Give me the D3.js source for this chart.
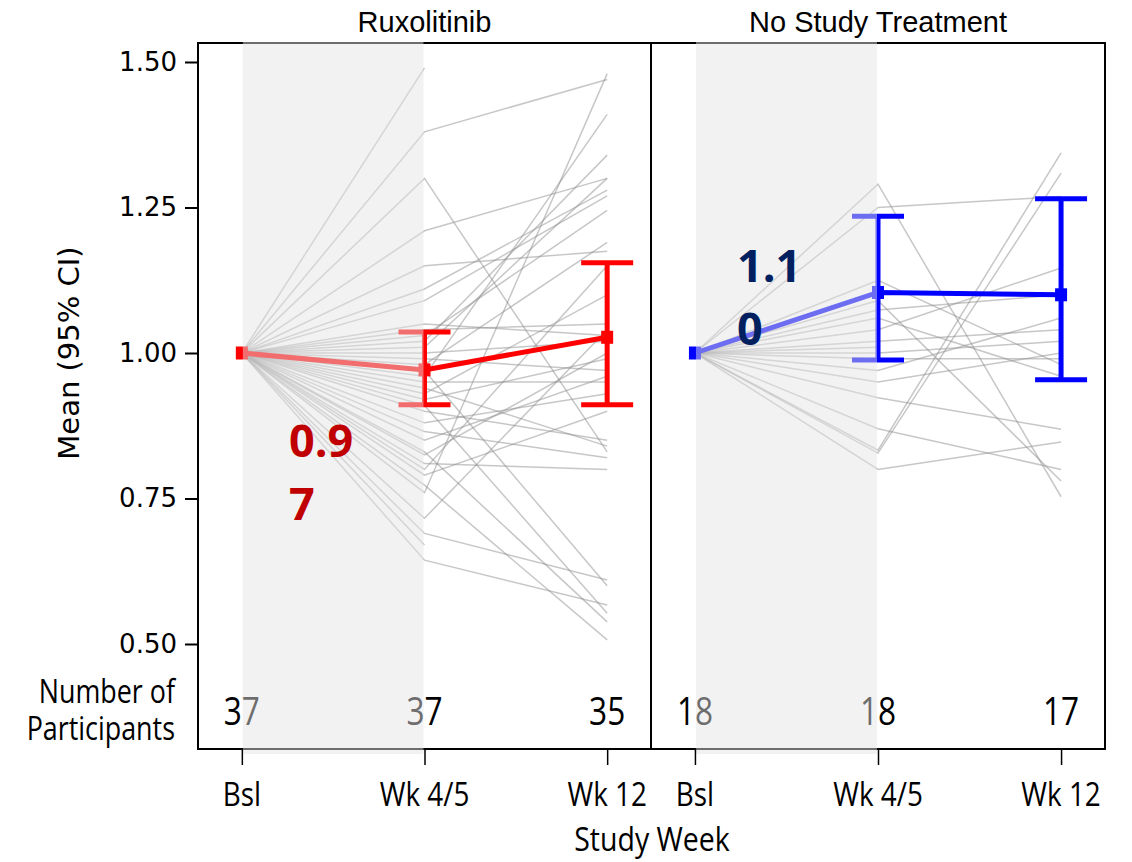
<!DOCTYPE html>
<html><head><meta charset="utf-8">
<script src="https://cdn.jsdelivr.net/npm/d3@7"></script>
<style>body{margin:0;background:#fff}svg{display:block}</style>
</head><body>
<svg id="c" width="1132" height="862"></svg>
<script>
// ---------- data ----------
const timepoints = ["Bsl", "Wk 4/5", "Wk 12"];
const panelTitles = ["Ruxolitinib", "No Study Treatment"];
const yTicks = [0.50, 0.75, 1.00, 1.25, 1.50];

// individual participants (normalised to baseline = 1.00)
const ruxBsl = 1.00;
const ruxWk45 = [1.49, 1.38, 1.30, 1.21, 1.15, 1.11, 1.09, 1.05, 1.04, 1.03, 1.02, 1.01, 1.00,
  0.99, 0.98, 0.97, 0.96, 0.95, 0.94, 0.93, 0.92, 0.91, 0.90, 0.88, 0.865, 0.85, 0.83, 0.825,
  0.81, 0.80, 0.79, 0.773, 0.76, 0.716, 0.69, 0.67, 0.644];
const ruxWk12 = [null, 1.47, 0.83, 1.30, 1.175, 1.28, 1.27, 1.03, 1.05, 1.245, 1.34, 1.30, 1.02,
  0.97, 1.19, 0.60, 1.41, 0.95, 0.84, 1.10, 0.99, 0.553, 0.85, 0.93, 0.82, 0.96, 0.538, 1.00,
  0.80, 1.15, 0.90, 0.507, 1.48, 1.04, 0.61, null, 0.567];

const nstBsl = 1.00;
const nstWk45 = [1.29, 1.25, 1.125, 1.09, 1.074, 1.06, 1.04, 1.02, 1.01, 1.00, 0.99, 0.97,
  0.95, 0.923, 0.87, 0.833, 0.828, 0.80];
const nstWk12 = [0.753, 1.269, 0.98, 0.78, 1.10, 0.96, 1.146, 1.04, null, 1.02, 0.99, 1.06,
  1.00, 0.869, 0.80, 1.344, 1.309, 0.847];

// group means and 95% CI
const ruxMean = [1.00, 0.971, 1.027];
const ruxLower = [null, 0.911, 0.911];
const ruxUpper = [null, 1.036, 1.155];
const nstMean = [1.00, 1.104, 1.100];
const nstLower = [null, 0.988, 0.954];
const nstUpper = [null, 1.235, 1.265];

const ruxN = [37, 37, 35];
const nstN = [18, 18, 17];

const ruxLabel = ["0.9", "7"];   // wrapped "0.97"
const nstLabel = ["1.1", "0"];   // wrapped "1.10"

// ---------- layout ----------
const svg = d3.select("#c");
const L = 198, R = 1105, T = 43, B = 749, MID = 651;
const y = d3.scaleLinear().domain([0.5, 1.5]).range([644, 62]);

const panels = [
  { title: panelTitles[0], x0: L, x1: MID, bsl: ruxBsl, w45: ruxWk45, w12: ruxWk12,
    mean: ruxMean, lo: ruxLower, hi: ruxUpper, n: ruxN, col: "#ff0000", lab: ruxLabel,
    labCol: "#c00000", labX: 289, labY: [457, 520] },
  { title: panelTitles[1], x0: MID, x1: R, bsl: nstBsl, w45: nstWk45, w12: nstWk12,
    mean: nstMean, lo: nstLower, hi: nstUpper, n: nstN, col: "#0000ff", lab: nstLabel,
    labCol: "#002060", labX: 737, labY: [282, 345] }
];
panels.forEach(p => {
  p.x = d3.scalePoint().domain(timepoints).range([p.x0, p.x1]).padding(0.24);
});

function ctext(g, x, yy, str, size, sx, anchor, family, fill) {
  return g.append("text")
    .attr("transform", `translate(${x},${yy}) scale(${sx},1)`)
    .attr("text-anchor", anchor || "middle")
    .style("font-family", family || "'Open Sans', sans-serif")
    .style("font-size", size + "px")
    .style("fill", fill || "#000")
    .text(str);
}

const content = svg.append("g");

// individual lines
panels.forEach(p => {
  const g = content.append("g");
  p.w45.forEach((v, i) => {
    const pts = [[timepoints[0], p.bsl], [timepoints[1], v]];
    if (p.w12[i] != null) pts.push([timepoints[2], p.w12[i]]);
    g.append("path")
      .attr("d", d3.line().x(d => p.x(d[0])).y(d => y(d[1]))(pts))
      .attr("fill", "none").attr("stroke", "#8f8f8f").attr("stroke-opacity", 0.5)
      .attr("stroke-width", 1.5);
  });
});

// mean lines, CIs, markers
panels.forEach(p => {
  const g = content.append("g");
  g.append("path")
    .attr("d", d3.line().x((d, i) => p.x(timepoints[i])).y(d => y(d))(p.mean))
    .attr("fill", "none").attr("stroke", p.col).attr("stroke-width", 5);
  timepoints.forEach((t, i) => {
    const cx = p.x(t);
    if (p.lo[i] != null) {
      g.append("line").attr("x1", cx).attr("x2", cx).attr("y1", y(p.lo[i])).attr("y2", y(p.hi[i]))
        .attr("stroke", p.col).attr("stroke-width", 5);
      [p.lo[i], p.hi[i]].forEach(v => {
        g.append("line").attr("x1", cx - 26).attr("x2", cx + 26).attr("y1", y(v)).attr("y2", y(v))
          .attr("stroke", p.col).attr("stroke-width", 5);
      });
    }
    g.append("rect").attr("x", cx - 6).attr("y", y(p.mean[i]) - 6.5).attr("width", 12).attr("height", 13)
      .attr("fill", p.col);
  });
  // participant counts
  p.n.forEach((n, i) => ctext(g, p.x(timepoints[i]), 725, n, 39, 0.81, "middle"));
});

// frame
const frame = content.append("g").attr("stroke", "#000").attr("stroke-width", 2).attr("fill", "none");
frame.append("rect").attr("x", L).attr("y", T).attr("width", R - L).attr("height", B - T);
frame.append("line").attr("x1", MID).attr("x2", MID).attr("y1", T).attr("y2", B);

// shaded Bsl -> Wk 4/5 window (semi-transparent overlay)
panels.forEach(p => {
  const xa = p.x(timepoints[0]) + 1, xb = p.x(timepoints[1]) - 1;
  svg.append("rect").attr("x", xa).attr("y", T - 1).attr("width", xb - xa).attr("height", 754 - (T - 1))
    .attr("fill", "rgb(228,228,228)").attr("fill-opacity", 0.48);
});

// mean value labels (on top)
panels.forEach(p => {
  p.lab.forEach((s, i) => {
    svg.append("text").attr("x", p.labX).attr("y", p.labY[i])
      .style("font-family", "'Open Sans', sans-serif").style("font-weight", 700)
      .style("font-size", "45px").style("fill", p.labCol).text(s);
  });
});

// panel titles
panels.forEach(p => {
  svg.append("text").attr("x", (p.x0 + p.x1) / 2).attr("y", 32).attr("text-anchor", "middle")
    .style("font-family", "'Liberation Sans', Arial, sans-serif").style("font-size", "29px")
    .text(p.title);
});

// y axis
const yAxis = d3.axisLeft(y).tickValues(yTicks).tickFormat(d3.format(".2f")).tickSize(13).tickPadding(8);
const ya = svg.append("g").attr("transform", `translate(${L},0)`).call(yAxis);
ya.select(".domain").remove();
ya.selectAll(".tick line").attr("stroke", "#000").attr("stroke-width", 2);
ya.selectAll(".tick text").style("font-family", "'DejaVu Sans', sans-serif").style("font-size", "26px").attr("fill", "#000");

svg.append("text").attr("transform", "translate(79,353) rotate(-90)").attr("text-anchor", "middle")
  .style("font-family", "'DejaVu Sans', sans-serif").style("font-size", "29px").text("Mean (95% CI)");

// x axes
panels.forEach(p => {
  const xa = d3.axisBottom(p.x).tickSize(16).tickFormat("");
  const g = svg.append("g").attr("transform", `translate(0,${B})`).call(xa);
  g.select(".domain").remove();
  g.selectAll(".tick line").attr("stroke", "#000").attr("stroke-width", 1.5);
  timepoints.forEach(t => ctext(svg, p.x(t), 806, t, 32, 0.87, "middle"));
});

ctext(svg, 175, 703, "Number of", 32, 0.84, "end");
ctext(svg, 175, 740, "Participants", 32, 0.84, "end");
ctext(svg, 652, 851, "Study Week", 32, 0.89, "middle");
</script>
</body></html>
